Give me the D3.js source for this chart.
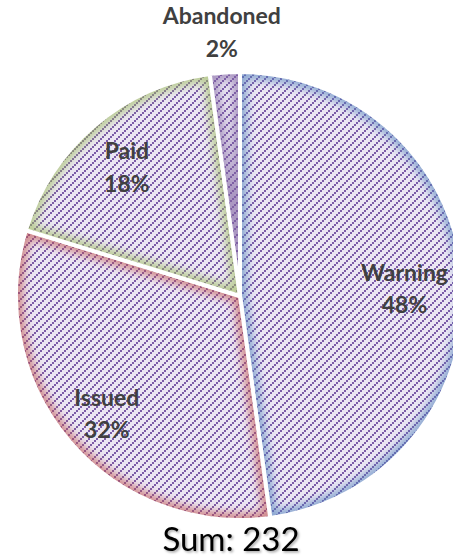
<!DOCTYPE html>
<html>
<head>
<meta charset="utf-8">
<script src="https://cdn.jsdelivr.net/npm/d3@7"></script>
<style>
  body { margin: 0; background: #fff; }
  svg { display: block; }
</style>
</head>
<body>
<script>
// data
var categories = ["Warning", "Issued", "Paid", "Abandoned"];
var counts = [111, 74, 42, 5];
var edgeColors = ["#4F81BD", "#C0504D", "#9BBB59", "#8064A2"];

var width = 453, height = 558;
var cx = 240, cy = 296, radius = 224;

var svg = d3.select("body")
    .append("svg")
    .attr("width", width)
    .attr("height", height);

var defs = svg.append("defs");

// hatch: purple upward diagonal on lavender
var pat = defs.append("pattern")
    .attr("id", "hatch")
    .attr("patternUnits", "userSpaceOnUse")
    .attr("width", 8)
    .attr("height", 8);
pat.append("rect")
    .attr("width", 8).attr("height", 8)
    .attr("fill", "#ebe6f3");
[[6, 0], [4, 2], [2, 4], [0, 6]].forEach(function (p) {
    pat.append("rect")
        .attr("x", p[0]).attr("y", p[1])
        .attr("width", 2).attr("height", 2)
        .attr("fill", "#7b5ca8")
        .attr("shape-rendering", "crispEdges");
});

defs.append("filter")
    .attr("id", "soft")
    .attr("x", "-20%").attr("y", "-20%")
    .attr("width", "140%").attr("height", "140%")
    .append("feGaussianBlur")
    .attr("stdDeviation", 4);

var shadow = defs.append("filter")
    .attr("id", "shadow")
    .attr("x", "-10%").attr("y", "-30%")
    .attr("width", "130%").attr("height", "160%");
shadow.append("feDropShadow")
    .attr("dx", 1.5).attr("dy", 1.5)
    .attr("stdDeviation", 1)
    .attr("flood-color", "#000")
    .attr("flood-opacity", 0.35);

var total = d3.sum(counts);
var rows = categories.map(function (c, i) {
    return { name: c, value: counts[i], color: edgeColors[i] };
});

var pie = d3.pie()
    .sort(null)
    .value(function (d) { return d.value; });

var arc = d3.arc()
    .innerRadius(0)
    .outerRadius(radius);

var arcs = pie(rows);

var g = svg.append("g")
    .attr("transform", "translate(" + cx + "," + cy + ")");

var slice = g.selectAll("g.slice")
    .data(arcs)
    .enter()
    .append("g")
    .attr("class", "slice");

slice.append("clipPath")
    .attr("id", function (d, i) { return "clip" + i; })
    .append("path")
    .attr("d", arc);

slice.append("path")
    .attr("d", arc)
    .attr("fill", "url(#hatch)");

// coloured soft edge inside each slice
slice.append("g")
    .attr("clip-path", function (d, i) { return "url(#clip" + i + ")"; })
    .append("path")
    .attr("d", arc)
    .attr("fill", "none")
    .attr("stroke", function (d) { return d.data.color; })
    .attr("stroke-width", 14)
    .attr("stroke-opacity", 0.6)
    .attr("filter", "url(#soft)");

// white gaps between slices
slice.append("path")
    .attr("d", arc)
    .attr("fill", "none")
    .attr("stroke", "#fff")
    .attr("stroke-width", 4)
    .attr("stroke-linejoin", "round");

// labels
var fontSize = 23;
var labelArc = d3.arc().innerRadius(radius * 0.78).outerRadius(radius * 0.78);
var outerArc = d3.arc().innerRadius(radius * 1.2).outerRadius(radius * 1.2);

var labels = g.selectAll("text.lbl")
    .data(arcs)
    .enter()
    .append("text")
    .attr("class", "lbl")
    .attr("text-anchor", "middle")
    .attr("font-family", "Lato, 'Open Sans', sans-serif")
    .attr("font-weight", "bold")
    .attr("font-size", fontSize)
    .attr("fill", "#404040");

labels.append("tspan")
    .attr("x", 0)
    .attr("dy", "-0.15em")
    .text(function (d) { return d.data.name; });

labels.append("tspan")
    .attr("x", 0)
    .attr("dy", "1.4em")
    .text(function (d) { return Math.round(d.value / total * 100) + "%"; });

// place labels, keeping them inside the page
labels.attr("transform", function (d) {
    var c = (d.value / total < 0.05 ? outerArc : labelArc).centroid(d);
    var half = this.getBBox().width / 2;
    var x = Math.min(c[0], width - cx - half - 5);
    x = Math.max(x, -cx + half + 5);
    return "translate(" + x + "," + c[1] + ")";
});

svg.append("text")
    .attr("x", 231)
    .attr("y", 551)
    .attr("text-anchor", "middle")
    .attr("font-family", "Lato, 'Open Sans', sans-serif")
    .attr("font-size", 33)
    .attr("fill", "#000")
    .attr("filter", "url(#shadow)")
    .text("Sum: " + total);
</script>
</body>
</html>
